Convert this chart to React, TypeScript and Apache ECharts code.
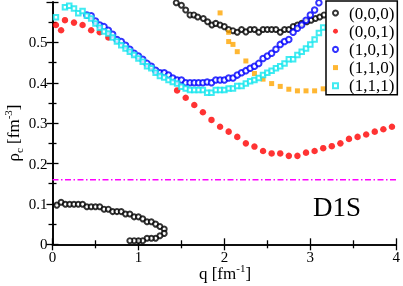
import React, { useEffect, useRef } from "react";
import * as echarts from "echarts";

// (0,0,0) — open black circles (lower branch, then upper branch)
const q000 = [0.05, 0.1, 0.15, 0.2, 0.25, 0.3, 0.35, 0.4, 0.45, 0.5, 0.55, 0.6, 0.65, 0.7, 0.75, 0.8, 0.85, 0.9, 0.95, 1.0, 1.05, 1.1, 1.15, 1.2, 1.25, 1.3, 1.3, 1.25, 1.2, 1.15, 1.1, 1.05, 1.0, 0.95, 0.9,
  1.44, 1.5, 1.55, 1.6, 1.645, 1.69, 1.755, 1.805, 1.855, 1.9, 1.95, 2.0, 2.05, 2.1, 2.15, 2.2, 2.25, 2.3, 2.35, 2.4, 2.45, 2.5, 2.55, 2.6, 2.65, 2.7, 2.75, 2.8, 2.85, 2.9, 2.96, 3.01, 3.06, 3.11, 3.16];
const rho000 = [0.097, 0.104, 0.099, 0.099, 0.099, 0.099, 0.099, 0.093, 0.093, 0.093, 0.093, 0.087, 0.087, 0.081, 0.081, 0.081, 0.075, 0.075, 0.068, 0.068, 0.063, 0.056, 0.056, 0.05, 0.044, 0.038, 0.027, 0.021, 0.015, 0.015, 0.015, 0.009, 0.009, 0.009, 0.009,
  0.598, 0.592, 0.58, 0.568, 0.568, 0.563, 0.559, 0.551, 0.543, 0.547, 0.543, 0.539, 0.532, 0.529, 0.525, 0.532, 0.526, 0.532, 0.532, 0.525, 0.532, 0.532, 0.532, 0.532, 0.525, 0.532, 0.532, 0.539, 0.543, 0.547, 0.551, 0.555, 0.559, 0.563, 0.568];

// (0,0,1) — filled red circles
const q001 = [0.04, 0.1, 0.145, 0.25, 0.35, 0.45, 0.55, 0.65, 1.45, 1.55, 1.65, 1.75, 1.85, 1.95, 2.05, 2.15, 2.25, 2.35, 2.45, 2.55, 2.65, 2.75, 2.85, 2.95, 3.05, 3.15, 3.25, 3.35, 3.45, 3.55, 3.65, 3.75, 3.85, 3.95];
const rho001 = [0.543, 0.53, 0.555, 0.549, 0.543, 0.53, 0.525, 0.512, 0.381, 0.363, 0.345, 0.327, 0.308, 0.291, 0.279, 0.266, 0.25, 0.242, 0.231, 0.225, 0.225, 0.219, 0.219, 0.227, 0.231, 0.238, 0.243, 0.25, 0.261, 0.266, 0.272, 0.279, 0.285, 0.291];

// (1,0,1) — open blue circles
const q101 = [0.4, 0.45, 0.5, 0.55, 0.6, 0.65, 0.7, 0.75, 0.8, 0.85, 0.9, 0.95, 1.0, 1.05, 1.1, 1.15, 1.2, 1.25, 1.3, 1.35, 1.4, 1.45, 1.5, 1.55, 1.6, 1.65, 1.7, 1.75, 1.8, 1.85, 1.9, 1.95, 2.0, 2.05, 2.1, 2.15, 2.2, 2.25, 2.3, 2.35, 2.4, 2.45, 2.5, 2.55, 2.6, 2.65, 2.7, 2.75, 2.8, 2.85, 2.9, 2.95, 3.0, 3.05, 3.1];
const rho101 = [0.568, 0.566, 0.553, 0.543, 0.539, 0.53, 0.52, 0.507, 0.502, 0.493, 0.483, 0.473, 0.466, 0.458, 0.448, 0.441, 0.431, 0.425, 0.425, 0.419, 0.412, 0.407, 0.407, 0.4, 0.4, 0.4, 0.4, 0.4, 0.402, 0.4, 0.407, 0.407, 0.407, 0.412, 0.412, 0.419, 0.425, 0.43, 0.436, 0.441, 0.448, 0.46, 0.466, 0.473, 0.483, 0.495, 0.502, 0.507, 0.525, 0.535, 0.543, 0.555, 0.568, 0.58, 0.598];

// (1,1,0) — filled orange squares
const q110 = [1.95, 2.05, 2.05, 2.1, 2.15, 2.25, 2.35, 2.45, 2.55, 2.65, 2.75, 2.85, 2.95, 3.05, 3.15];
const rho110 = [0.573, 0.525, 0.502, 0.495, 0.477, 0.454, 0.423, 0.409, 0.398, 0.391, 0.384, 0.38, 0.38, 0.38, 0.385];

// (1,1,1) — open cyan squares
const q111 = [0.04, 0.145, 0.195, 0.25, 0.3, 0.35, 0.4, 0.45, 0.5, 0.55, 0.6, 0.65, 0.7, 0.75, 0.8, 0.85, 0.9, 0.95, 1.0, 1.05, 1.1, 1.15, 1.2, 1.25, 1.3, 1.35, 1.4, 1.45, 1.5, 1.55, 1.6, 1.65, 1.7, 1.75, 1.8, 1.85, 1.9, 1.95, 2.0, 2.05, 2.1, 2.15, 2.2, 2.25, 2.3, 2.35, 2.4, 2.45, 2.5, 2.55, 2.6, 2.65, 2.7, 2.75, 2.8, 2.85, 2.9, 2.95, 3.0, 3.05, 3.1, 3.15];
const rho111 = [0.562, 0.587, 0.591, 0.584, 0.572, 0.578, 0.566, 0.559, 0.547, 0.536, 0.527, 0.522, 0.512, 0.502, 0.493, 0.485, 0.477, 0.469, 0.46, 0.452, 0.441, 0.436, 0.425, 0.417, 0.413, 0.407, 0.402, 0.398, 0.39, 0.386, 0.382, 0.382, 0.382, 0.382, 0.375, 0.375, 0.382, 0.382, 0.382, 0.386, 0.386, 0.392, 0.392, 0.398, 0.404, 0.407, 0.412, 0.419, 0.425, 0.43, 0.436, 0.441, 0.448, 0.458, 0.458, 0.469, 0.477, 0.485, 0.495, 0.507, 0.523, 0.537];

// saturation density reference line
const rhoSat = 0.16;
const qRange = [0, 4];

const legendNames = ["(0,0,0)", "(0,0,1)", "(1,0,1)", "(1,1,0)", "(1,1,1)"];

const zip = (xs: number[], ys: number[]) => xs.map((x, i) => [x, ys[i]]);

const FONT = "Liberation Serif";

export default function App() {
  const ref = useRef<HTMLDivElement>(null);
  useEffect(() => {
    if (!ref.current) return;
    const chart = echarts.init(ref.current, null, { renderer: "svg" });
    const axisLine = { show: true, lineStyle: { color: "#000", width: 1.6 } };
    const label = { color: "#000", fontFamily: FONT, fontSize: 15 };
    const tick = { inside: true, length: 6, lineStyle: { color: "#000", width: 1.3 } };
    const minor = { show: true, splitNumber: 2, length: 4, lineStyle: { color: "#000", width: 1.3 } };
    const xCommon = {
      type: "value" as const,
      min: 0,
      max: 4,
      interval: 1,
      axisLine,
      axisTick: tick,
      minorTick: minor,
      splitLine: { show: false },
    };
    const yCommon = {
      type: "value" as const,
      min: 0,
      max: 0.6,
      interval: 0.1,
      axisLine,
      axisTick: tick,
      minorTick: minor,
      splitLine: { show: false },
    };
    const scatter = (name: string, data: number[][], symbol: string, size: number, color: string) => ({
      name,
      type: "scatter",
      data,
      symbol,
      symbolSize: size,
      symbolKeepAspect: true,
      itemStyle: { color, borderColor: color, borderWidth: symbol.startsWith("empty") ? 1 : 0 },
      z: 3,
    });
    chart.setOption({
      animation: false,
      grid: { left: 52.5, right: 5.3, top: 2, bottom: 41.7, containLabel: false },
      xAxis: [
        { ...xCommon, position: "bottom", axisLabel: { ...label, margin: 5 } },
        { ...xCommon, position: "top", axisLabel: { show: false } },
      ],
      yAxis: [
        {
          ...yCommon,
          position: "left",
          axisLabel: { ...label, margin: 5, formatter: (v: number) => (v > 0.55 ? "" : String(Math.round(v * 10) / 10)) },
        },
        { ...yCommon, position: "right", axisLabel: { show: false } },
      ],
      legend: {
        data: legendNames,
        orient: "vertical",
        left: 326,
        top: 1,
        padding: [3, 3, 0, 6],
        itemWidth: 5,
        itemHeight: 5,
        itemGap: 0.2,
        backgroundColor: "#fff",
        borderColor: "#000",
        borderWidth: 1.5,
        borderRadius: 0,
        textStyle: { fontFamily: FONT, fontSize: 17, color: "#000", lineHeight: 18, padding: [0, 0, 0, 6] },
        selectedMode: false,
      },
      series: [
        {
          name: "rho0",
          type: "line",
          data: zip(qRange, [rhoSat, rhoSat]),
          symbol: "none",
          silent: true,
          lineStyle: { color: "#ff00ff", width: 1.5, type: [6, 2.5, 1.5, 2.5] },
          z: 1,
        },
        scatter(legendNames[0], zip(q000, rho000), "emptyCircle", 5, "#000000"),
        scatter(legendNames[1], zip(q001, rho001), "circle", 6.5, "#ff0000"),
        scatter(legendNames[2], zip(q101, rho101), "emptyCircle", 5.5, "#0000ff"),
        scatter(legendNames[3], zip(q110, rho110), "rect", 5, "#ffa500"),
        scatter(legendNames[4], zip(q111, rho111), "emptyRect", 4.5, "#11e6ee"),
      ],
      graphic: [
        {
          type: "text",
          left: 313,
          top: 193,
          style: { text: "D1S", font: `27px "${FONT}"`, fill: "#000" },
        },
        {
          type: "text",
          x: 225,
          y: 272,
          style: {
            text: "{a|q [fm}{s|-1}{a|]}",
            align: "center",
            verticalAlign: "middle",
            rich: {
              a: { fontFamily: FONT, fontSize: 17, fill: "#000", color: "#000", lineHeight: 20, verticalAlign: "bottom" },
              s: { fontFamily: FONT, fontSize: 11, fill: "#000", color: "#000", verticalAlign: "top", lineHeight: 20 },
            },
          },
        },
        {
          type: "text",
          x: 13,
          y: 133,
          rotation: Math.PI / 2,
          style: {
            text: "{a|ρ}{b|c}{a| [fm}{s|-3}{a|]}",
            align: "center",
            verticalAlign: "middle",
            rich: {
              a: { fontFamily: FONT, fontSize: 17, fill: "#000", color: "#000", lineHeight: 22, verticalAlign: "middle" },
              b: { fontFamily: FONT, fontSize: 11, fill: "#000", color: "#000", lineHeight: 22, verticalAlign: "bottom" },
              s: { fontFamily: FONT, fontSize: 11, fill: "#000", color: "#000", lineHeight: 22, verticalAlign: "top" },
            },
          },
        },
      ],
    });
    return () => chart.dispose();
  }, []);
  return <div ref={ref} style={{ position: "fixed", left: 0, top: 0, width: 403, height: 286 }} />;
}
